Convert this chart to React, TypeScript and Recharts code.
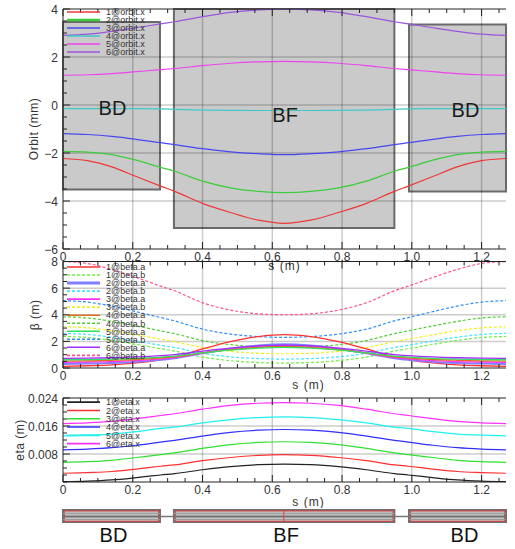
import React from 'react';
import { ComposedChart, Line, XAxis, YAxis, ReferenceArea, ReferenceLine, Legend } from 'recharts';

const FONT = '"Liberation Sans", Arial, Helvetica, sans-serif';

// s positions (m)
const S = [0, 0.07, 0.14, 0.21, 0.28, 0.32, 0.4, 0.48, 0.56, 0.635, 0.71, 0.79, 0.87, 0.95, 0.99, 1.06, 1.13, 1.2, 1.27];

// Orbit (mm)
const orbit1 = [-2.23, -2.32, -2.58, -2.98, -3.38, -3.6, -4.1, -4.48, -4.8, -4.93, -4.8, -4.48, -4.1, -3.6, -3.38, -2.98, -2.58, -2.32, -2.23];
const orbit2 = [-1.93, -1.96, -2.07, -2.3, -2.6, -2.76, -3.17, -3.45, -3.6, -3.65, -3.6, -3.45, -3.17, -2.76, -2.6, -2.3, -2.07, -1.96, -1.93];
const orbit3 = [-1.19, -1.23, -1.31, -1.43, -1.57, -1.65, -1.82, -1.95, -2.03, -2.07, -2.03, -1.95, -1.82, -1.65, -1.57, -1.43, -1.31, -1.23, -1.19];
const orbit4 = [-0.15, -0.15, -0.15, -0.15, -0.16, -0.18, -0.21, -0.22, -0.23, -0.23, -0.23, -0.22, -0.21, -0.18, -0.16, -0.15, -0.15, -0.15, -0.15];
const orbit5 = [1.24, 1.26, 1.31, 1.39, 1.47, 1.52, 1.64, 1.74, 1.8, 1.82, 1.8, 1.74, 1.64, 1.52, 1.47, 1.39, 1.31, 1.26, 1.24];
const orbit6 = [2.9, 2.95, 3.07, 3.22, 3.38, 3.47, 3.68, 3.86, 3.96, 3.99, 3.96, 3.86, 3.68, 3.47, 3.38, 3.22, 3.07, 2.95, 2.9];

// Beta (m)
const betaA1 = [0.12, 0.17, 0.24, 0.38, 0.62, 0.81, 1.43, 1.98, 2.36, 2.5, 2.36, 1.98, 1.43, 0.81, 0.62, 0.38, 0.24, 0.17, 0.12];
const betaA2 = [0.3, 0.33, 0.37, 0.46, 0.61, 0.73, 1.11, 1.45, 1.69, 1.78, 1.69, 1.45, 1.11, 0.73, 0.61, 0.46, 0.37, 0.33, 0.3];
const betaA3 = [0.42, 0.45, 0.48, 0.56, 0.69, 0.79, 1.12, 1.42, 1.62, 1.7, 1.62, 1.42, 1.12, 0.79, 0.69, 0.56, 0.48, 0.45, 0.42];
const betaA4 = [0.52, 0.54, 0.58, 0.64, 0.75, 0.84, 1.13, 1.38, 1.55, 1.62, 1.55, 1.38, 1.13, 0.84, 0.75, 0.64, 0.58, 0.54, 0.52];
const betaA5 = [0.62, 0.64, 0.67, 0.72, 0.82, 0.89, 1.13, 1.35, 1.49, 1.55, 1.49, 1.35, 1.13, 0.89, 0.82, 0.72, 0.67, 0.64, 0.62];
const betaA6 = [0.72, 0.74, 0.77, 0.83, 0.93, 1.01, 1.27, 1.5, 1.66, 1.72, 1.66, 1.5, 1.27, 1.01, 0.93, 0.83, 0.77, 0.74, 0.72];
const betaB1 = [2.37, 2.29, 2.07, 1.77, 1.45, 1.27, 0.82, 0.55, 0.41, 0.37, 0.41, 0.55, 0.82, 1.27, 1.45, 1.77, 2.07, 2.29, 2.37];
const betaB2 = [2.6, 2.52, 2.31, 2.02, 1.71, 1.54, 1.1, 0.84, 0.71, 0.67, 0.71, 0.84, 1.1, 1.54, 1.71, 2.02, 2.31, 2.52, 2.6];
const betaB3 = [3.1, 3.02, 2.8, 2.49, 2.17, 1.98, 1.53, 1.25, 1.11, 1.07, 1.11, 1.25, 1.53, 1.98, 2.17, 2.49, 2.8, 3.02, 3.1];
const betaB4 = [3.85, 3.76, 3.5, 3.16, 2.79, 2.58, 2.06, 1.75, 1.59, 1.54, 1.59, 1.75, 2.06, 2.58, 2.79, 3.16, 3.5, 3.76, 3.85];
const betaB5 = [5.06, 4.95, 4.65, 4.23, 3.79, 3.54, 2.92, 2.55, 2.36, 2.3, 2.36, 2.55, 2.92, 3.54, 3.79, 4.23, 4.65, 4.95, 5.06];
const betaB6 = [8.0, 7.85, 7.4, 6.8, 6.15, 5.8, 4.9, 4.35, 4.07, 4.0, 4.07, 4.35, 4.9, 5.8, 6.15, 6.8, 7.4, 7.85, 8.0];

// Dispersion (m)
const eta1 = [0.0001, 0.00025, 0.0006, 0.00125, 0.002, 0.0024, 0.0035, 0.0044, 0.00495, 0.0051, 0.00495, 0.0044, 0.0035, 0.0024, 0.002, 0.00125, 0.0006, 0.00025, 0.0001];
const eta2 = [0.0025, 0.0027, 0.003, 0.0037, 0.0045, 0.0049, 0.0061, 0.007, 0.0076, 0.0078, 0.0076, 0.007, 0.0061, 0.0049, 0.0045, 0.0037, 0.003, 0.0027, 0.0025];
const eta3 = [0.0056, 0.0058, 0.0062, 0.007, 0.0078, 0.0083, 0.0096, 0.0107, 0.0113, 0.0115, 0.0113, 0.0107, 0.0096, 0.0083, 0.0078, 0.007, 0.0062, 0.0058, 0.0056];
const eta4 = [0.0092, 0.0094, 0.0098, 0.0105, 0.0114, 0.0119, 0.0131, 0.0142, 0.0148, 0.015, 0.0148, 0.0142, 0.0131, 0.0119, 0.0114, 0.0105, 0.0098, 0.0094, 0.0092];
const eta5 = [0.0132, 0.0134, 0.0137, 0.0144, 0.0153, 0.0157, 0.0169, 0.0178, 0.0184, 0.0186, 0.0184, 0.0178, 0.0169, 0.0157, 0.0153, 0.0144, 0.0137, 0.0134, 0.0132];
const eta6 = [0.0167, 0.0169, 0.0173, 0.0181, 0.019, 0.0195, 0.0208, 0.0219, 0.0225, 0.0227, 0.0225, 0.0219, 0.0208, 0.0195, 0.019, 0.0181, 0.0173, 0.0169, 0.0167];

// Magnets
const magnetNames = ['BD', 'BF', 'BD'];
const magnetStart = [0, 0.318, 0.992];
const magnetEnd = [0.278, 0.95, 1.27];
const magnetTop = [3.46, 4, 3.35];
const magnetBottom = [-3.52, -5.12, -3.6];
const bfCenter = 0.633;

// Ticks
const xTicks = [0, 0.05, 0.1, 0.15, 0.2, 0.25, 0.3, 0.35, 0.4, 0.45, 0.5, 0.55, 0.6, 0.65, 0.7, 0.75, 0.8, 0.85, 0.9, 0.95, 1.0, 1.05, 1.1, 1.15, 1.2, 1.25];
const xLabels = [0, 0.2, 0.4, 0.6, 0.8, 1.0, 1.2];
const xGrid = [0.2, 0.4, 0.6, 0.8, 1.0, 1.2];
const orbitTicks = [-6, -5.5, -5, -4.5, -4, -3.5, -3, -2.5, -2, -1.5, -1, -0.5, 0, 0.5, 1, 1.5, 2, 2.5, 3, 3.5, 4];
const orbitLabels = [-6, -4, -2, 0, 2, 4];
const orbitGrid = [-4, -2, 0, 2];
const betaTicks = [0, 0.5, 1, 1.5, 2, 2.5, 3, 3.5, 4, 4.5, 5, 5.5, 6, 6.5, 7, 7.5, 8];
const betaLabels = [0, 2, 4, 6, 8];
const betaGrid = [2, 4, 6];
const etaTicks = [0, 0.002, 0.004, 0.006, 0.008, 0.01, 0.012, 0.014, 0.016, 0.018, 0.02, 0.022, 0.024];
const etaLabels = [0.008, 0.016, 0.024];
const etaGrid = [0.008, 0.016];

// Series names & colours
const orbitNames = ['1@orbit.x', '2@orbit.x', '3@orbit.x', '4@orbit.x', '5@orbit.x', '6@orbit.x'];
const orbitColors = ['#ee3838', '#3ccc3c', '#4848ee', '#40c8c8', '#ee44ee', '#9a55dd'];
const betaANames = ['1@beta.a', '2@beta.a', '3@beta.a', '4@beta.a', '5@beta.a', '6@beta.a'];
const betaBNames = ['1@beta.b', '2@beta.b', '3@beta.b', '4@beta.b', '5@beta.b', '6@beta.b'];
const betaAColors = ['#ff3030', '#8080ff', '#ff30ff', '#e07020', '#30e060', '#a030ff'];
const betaBColors = ['#70f040', '#40e8ff', '#f0f020', '#50d030', '#3090ff', '#ff5090'];
const etaNames = ['1@eta.x', '2@eta.x', '3@eta.x', '4@eta.x', '5@eta.x', '6@eta.x'];
const etaColors = ['#222222', '#ff3030', '#30e030', '#3030ff', '#20f0f0', '#ff30ff'];

const orbitSeries = [orbit1, orbit2, orbit3, orbit4, orbit5, orbit6];
const betaASeries = [betaA1, betaA2, betaA3, betaA4, betaA5, betaA6];
const betaBSeries = [betaB1, betaB2, betaB3, betaB4, betaB5, betaB6];
const etaSeries = [eta1, eta2, eta3, eta4, eta5, eta6];

const orbitData = S.map((s, i) => {
  const r: any = { s };
  orbitSeries.forEach((a, k) => (r['o' + k] = a[i]));
  return r;
});
const betaData = S.map((s, i) => {
  const r: any = { s };
  betaASeries.forEach((a, k) => (r['a' + k] = a[i]));
  betaBSeries.forEach((a, k) => (r['b' + k] = a[i]));
  return r;
});
const etaData = S.map((s, i) => {
  const r: any = { s };
  etaSeries.forEach((a, k) => (r['e' + k] = a[i]));
  return r;
});

const near = (list: number[], v: number) => list.some((l) => Math.abs(l - v) < 1e-9);
const fmtX = (v: number) => (v === 0 ? '0' : v.toFixed(1));
const fmtOrbit = (v: number) => (v < 0 ? '\u2212' + Math.abs(v) : String(v));
const fmtBeta = (v: number) => String(v);
const fmtEta = (v: number) => v.toFixed(3);

const makeXTick = (top: boolean, showLabel: boolean) => (p: any) => {
  const v = p.payload.value;
  const major = near(xLabels, v);
  const len = major ? 7 : 4;
  return (
    <g>
      <line x1={p.x} x2={p.x} y1={p.y} y2={top ? p.y + len : p.y - len} stroke="#222" strokeWidth={1} />
      {showLabel && major && (
        <text x={p.x} y={p.y + 12} textAnchor="middle" fontSize={12} fill="#333" fontFamily={FONT}>
          {fmtX(v)}
        </text>
      )}
    </g>
  );
};

const makeYTick = (labels: number[], fmt: (v: number) => string) => (p: any) => {
  const v = p.payload.value;
  const major = near(labels, v);
  return (
    <g>
      <line x1={p.x} x2={p.x + (major ? 7 : 4)} y1={p.y} y2={p.y} stroke="#222" strokeWidth={1} />
      {major && (
        <text x={p.x - 5} y={p.y + 4.5} textAnchor="end" fontSize={12} fill="#333" fontFamily={FONT}>
          {fmt(v)}
        </text>
      )}
    </g>
  );
};

type Entry = { label: string; color: string; dash?: string; width?: number };

const LegendBox = ({ entries, rowH }: { entries: Entry[]; rowH: number }) => (
  <svg width={110} height={entries.length * rowH + 4} style={{ overflow: 'visible', display: 'block' }}>
    {entries.map((e, i) => {
      const cy = rowH * i + rowH / 2;
      return (
        <g key={i}>
          <line x1={0} x2={33} y1={cy} y2={cy} stroke={e.color} strokeWidth={e.width ?? 1.6} strokeDasharray={e.dash} />
          <text x={39} y={cy + 3.3} fontSize={9} fill="#333" fontFamily={FONT}>
            {e.label}
          </text>
        </g>
      );
    })}
  </svg>
);

function axes(opts: {
  domain: [number, number];
  ticks: number[];
  labels: number[];
  fmt: (v: number) => string;
  ylabel: string;
  yLabelDx: number;
  xLabelOffset: number;
  xLabelDx: number;
}) {
  return [
    <XAxis
      key="xb"
      type="number"
      dataKey="s"
      domain={[0, 1.27]}
      ticks={xTicks}
      interval={0}
      tickSize={0}
      tickMargin={0}
      tickLine={false}
      axisLine={{ stroke: '#222' }}
      height={26}
      tick={makeXTick(false, true)}
      allowDataOverflow
      label={{ value: 's (m)', position: 'insideBottom', offset: opts.xLabelOffset, dx: opts.xLabelDx, fontSize: 12, fill: '#333', fontFamily: FONT, letterSpacing: 1 }}
    />,
    <XAxis
      key="xt"
      xAxisId="top"
      orientation="top"
      type="number"
      dataKey="s"
      domain={[0, 1.27]}
      ticks={xTicks}
      interval={0}
      tickSize={0}
      tickMargin={0}
      tickLine={false}
      axisLine={{ stroke: '#222' }}
      height={1}
      tick={makeXTick(true, false)}
      allowDataOverflow
    />,
    <YAxis
      key="y"
      type="number"
      domain={opts.domain}
      ticks={opts.ticks}
      interval={0}
      tickSize={0}
      tickMargin={0}
      tickLine={false}
      axisLine={{ stroke: '#222' }}
      width={63}
      tick={makeYTick(opts.labels, opts.fmt)}
      allowDataOverflow
      label={{ value: opts.ylabel, angle: -90, position: 'center', dx: opts.yLabelDx, fontSize: 12, fill: '#333', fontFamily: FONT, letterSpacing: 0.5 }}
    />,
  ];
}

const gridLines = (yGrid: number[]) => [
  ...xGrid.map((x) => <ReferenceLine key={'gx' + x} x={x} stroke="#000" strokeOpacity={0.2} strokeWidth={1.5} />),
  ...yGrid.map((y) => <ReferenceLine key={'gy' + y} y={y} stroke="#000" strokeOpacity={0.2} strokeWidth={1.5} />),
];

const legendProps = (top: number) => ({
  layout: 'vertical' as const,
  align: 'center' as const,
  verticalAlign: 'middle' as const,
  wrapperStyle: { left: 67, top, width: 110, height: 'auto' },
});

const orbitEntries: Entry[] = orbitNames.map((n, i) => ({ label: n, color: orbitColors[i], width: i === 1 ? 2.5 : 1.6 }));
const betaEntries: Entry[] = [];
betaANames.forEach((n, i) => {
  betaEntries.push({ label: n, color: betaAColors[i], width: i === 1 ? 3 : 1.6 });
  betaEntries.push({ label: betaBNames[i], color: betaBColors[i], dash: '3 2', width: 1.6 });
});
const etaEntries: Entry[] = etaNames.map((n, i) => ({ label: n, color: etaColors[i] }));

export default function App() {
  return (
    <div style={{ position: 'absolute', left: 0, top: 0, width: 515, height: 549, fontFamily: FONT, background: '#fff' }}>
      {/* Orbit panel */}
      <div style={{ position: 'absolute', left: 0, top: 0 }}>
        <ComposedChart width={515} height={275} data={orbitData} margin={{ top: 8, right: 9, bottom: 0, left: 0 }}>
          {axes({ domain: [-6, 4], ticks: orbitTicks, labels: orbitLabels, fmt: fmtOrbit, ylabel: 'Orbit (mm)', yLabelDx: 2, xLabelOffset: 5, xLabelDx: 0 })}
          {gridLines(orbitGrid)}
          {magnetNames.map((n, i) => (
            <ReferenceArea
              key={'m' + i}
              x1={magnetStart[i]}
              x2={magnetEnd[i]}
              y1={magnetBottom[i]}
              y2={magnetTop[i]}
              fill="#7a7a7a"
              fillOpacity={0.4}
              stroke="#6a6a6a"
              strokeWidth={2}
              label={{ value: n, position: 'center', fontSize: 20, fill: '#1a1a1a', fontFamily: FONT, dx: i === 2 ? 8 : 1, dy: i === 1 ? -4 : 2 }}
            />
          ))}
          {orbitSeries.map((_, k) => (
            <Line key={'o' + k} dataKey={'o' + k} type="monotone" stroke={orbitColors[k]} strokeWidth={1.2} dot={false} isAnimationActive={false} />
          ))}
          <Legend {...legendProps(8.3)} content={() => <LegendBox entries={orbitEntries} rowH={8} />} />
        </ComposedChart>
      </div>

      {/* Beta panel */}
      <div style={{ position: 'absolute', left: 0, top: 250 }}>
        <ComposedChart width={515} height={144} data={betaData} margin={{ top: 10.5, right: 9, bottom: 0, left: 0 }}>
          {axes({ domain: [0, 8], ticks: betaTicks, labels: betaLabels, fmt: fmtBeta, ylabel: '\u03b2 (m)', yLabelDx: 3, xLabelOffset: 5, xLabelDx: 24 })}
          {gridLines(betaGrid)}
          {betaBSeries.map((_, k) => (
            <Line key={'b' + k} dataKey={'b' + k} type="monotone" stroke={betaBColors[k]} strokeWidth={1.2} strokeDasharray="3 2" dot={false} isAnimationActive={false} />
          ))}
          {betaASeries.map((_, k) => (
            <Line key={'a' + k} dataKey={'a' + k} type="monotone" stroke={betaAColors[k]} strokeWidth={k === 1 ? 2 : 1.3} dot={false} isAnimationActive={false} />
          ))}
          <Legend {...legendProps(12.7)} content={() => <LegendBox entries={betaEntries} rowH={8.03} />} />
        </ComposedChart>
      </div>

      {/* Eta panel */}
      <div style={{ position: 'absolute', left: 0, top: 385 }}>
        <ComposedChart width={515} height={123} data={etaData} margin={{ top: 12, right: 9, bottom: 0, left: 0 }}>
          {axes({ domain: [0, 0.024], ticks: etaTicks, labels: etaLabels, fmt: fmtEta, ylabel: 'eta (m)', yLabelDx: -12, xLabelOffset: 2, xLabelDx: 24 })}
          {gridLines(etaGrid)}
          {etaSeries.map((_, k) => (
            <Line key={'e' + k} dataKey={'e' + k} type="monotone" stroke={etaColors[k]} strokeWidth={1.2} dot={false} isAnimationActive={false} />
          ))}
          <Legend {...legendProps(12.5)} content={() => <LegendBox entries={etaEntries} rowH={8.3} />} />
        </ComposedChart>
      </div>

      {/* Lattice */}
      <div style={{ position: 'absolute', left: 0, top: 500 }}>
        <ComposedChart width={515} height={49} data={[{ s: 0 }, { s: 1.27 }]} margin={{ top: 10, right: 9, bottom: 27, left: 63 }}>
          <XAxis type="number" dataKey="s" domain={[0, 1.27]} hide allowDataOverflow />
          <YAxis type="number" domain={[0, 1]} hide allowDataOverflow />
          <ReferenceLine y={0.45} stroke="#777" strokeWidth={1.5} />
          {magnetNames.map((n, i) => (
            <ReferenceArea
              key={'l' + i}
              x1={magnetStart[i]}
              x2={magnetEnd[i]}
              y1={0}
              y2={1}
              fill="#c2c2c2"
              fillOpacity={1}
              stroke="#6f6f6f"
              strokeWidth={2}
              label={{ value: n, position: 'bottom', offset: 6, fontSize: 20, fill: '#111', fontFamily: FONT, dx: i === 2 ? 7 : 2 }}
            />
          ))}
          {magnetNames.map((n, i) => (
            <ReferenceLine
              key={'s1' + i}
              segment={[{ x: magnetStart[i], y: 0.45 }, { x: magnetEnd[i], y: 0.45 }]}
              stroke="#707070"
              strokeWidth={1.5}
            />
          ))}
          {magnetNames.map((n, i) => (
            <ReferenceLine
              key={'s2' + i}
              segment={[{ x: magnetStart[i], y: 0.72 }, { x: magnetEnd[i], y: 0.72 }]}
              stroke="#9a9a9a"
              strokeWidth={1}
            />
          ))}
          {magnetNames.map((n, i) => (
            <ReferenceLine
              key={'s3' + i}
              segment={[{ x: magnetStart[i], y: 0.2 }, { x: magnetEnd[i], y: 0.2 }]}
              stroke="#9a9a9a"
              strokeWidth={1}
            />
          ))}
          {magnetNames.map((n, i) => (
            <ReferenceArea
              key={'r' + i}
              x1={magnetStart[i] + 0.004}
              x2={magnetEnd[i] - 0.004}
              y1={0.06}
              y2={0.92}
              fill="none"
              stroke="#e04040"
              strokeWidth={1}
            />
          ))}
          <ReferenceLine segment={[{ x: bfCenter, y: 0.06 }, { x: bfCenter, y: 0.92 }]} stroke="#e04040" strokeWidth={1} />
        </ComposedChart>
      </div>
    </div>
  );
}
